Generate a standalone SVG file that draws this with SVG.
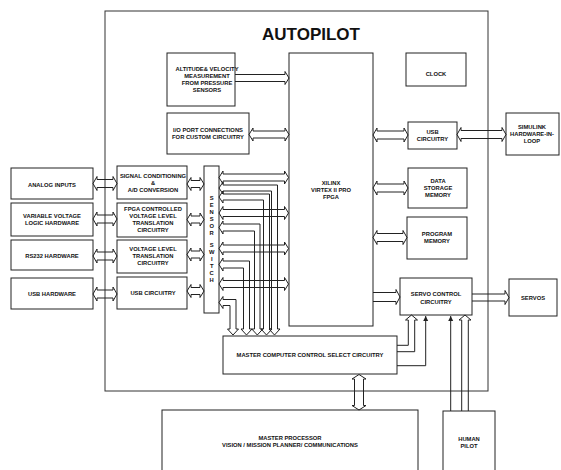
<svg xmlns="http://www.w3.org/2000/svg" width="561" height="470" viewBox="0 0 561 470">
<style>
.box{fill:#fff;stroke:#222;stroke-width:1}
.frame{fill:none;stroke:#333;stroke-width:1}
.arr{fill:none;stroke:#222;stroke-width:1;stroke-linejoin:miter}
.ln{fill:none;stroke:#222;stroke-width:1}
text{font-family:"Liberation Sans",Arial,sans-serif;font-weight:bold;font-size:5.8px;fill:#111;text-anchor:middle}
.title{font-size:17px}
</style>
<defs>
<marker id="ah" markerWidth="6" markerHeight="6" refX="5" refY="3" orient="auto" markerUnits="userSpaceOnUse">
<path d="M0,0.5 L5,3 L0,5.5 Z" fill="#222"/>
</marker>
</defs>
<rect width="561" height="470" fill="#fff"/>
<g id="autopilot"><rect class="frame" x="105" y="11" width="383" height="380"/><text class="title" x="311" y="40">AUTOPILOT</text></g>
<g id="altitude"><rect class="box" x="167" y="53" width="68" height="53"/><text x="207" y="70.5">ALTITUDE&amp; VELOCITY</text><text x="207" y="77.5">MEASUREMENT</text><text x="207" y="84.5">FROM PRESSURE</text><text x="207" y="91.5">SENSORS</text></g>
<g id="io"><rect class="box" x="167" y="113" width="82" height="41"/><text x="208" y="131.5">I/O PORT CONNECTIONS</text><text x="208" y="138.5">FOR CUSTOM CIRCUITRY</text></g>
<g id="fpga"><rect class="box" x="289" y="53" width="84" height="273"/><text x="331" y="185">XILINX</text><text x="331" y="192">VIRTEX II PRO</text><text x="331" y="199">FPGA</text></g>
<g id="clock"><rect class="box" x="406" y="53" width="60" height="33"/><text x="436" y="75.5">CLOCK</text></g>
<g id="usbc"><rect class="box" x="408" y="122" width="49" height="27"/><text x="432.5" y="134">USB</text><text x="432.5" y="141">CIRCUITRY</text></g>
<g id="simulink"><rect class="box" x="506" y="113" width="53" height="42"/><text x="532" y="129">SIMULINK</text><text x="532" y="136">HARDWARE-IN-</text><text x="532" y="143">LOOP</text></g>
<g id="data"><rect class="box" x="408" y="168" width="59" height="40"/><text x="438" y="183">DATA</text><text x="438" y="190">STORAGE</text><text x="438" y="197">MEMORY</text></g>
<g id="program"><rect class="box" x="407" y="217" width="60" height="42"/><text x="437" y="236">PROGRAM</text><text x="437" y="243">MEMORY</text></g>
<g id="servoctl"><rect class="box" x="400" y="278" width="72" height="37"/><text x="436" y="296">SERVO CONTROL</text><text x="436" y="303.5">CIRCUITRY</text></g>
<g id="servos"><rect class="box" x="509" y="279" width="48" height="37"/><text x="533" y="300">SERVOS</text></g>
<g id="mccs"><rect class="box" x="223" y="336" width="174" height="38"/><text x="310" y="356.5">MASTER COMPUTER CONTROL SELECT CIRCUITRY</text></g>
<g id="masterproc"><rect class="box" x="162" y="410" width="256" height="70"/><text x="290" y="440">MASTER PROCESSOR</text><text x="290" y="447">VISION / MISSION PLANNER/ COMMUNICATIONS</text></g>
<g id="human"><rect class="box" x="443" y="411" width="52" height="70"/><text x="469" y="440.5">HUMAN</text><text x="469" y="448">PILOT</text></g>
<g id="analog"><rect class="box" x="11" y="168" width="82" height="31"/><text x="52" y="186.5">ANALOG INPUTS</text></g>
<g id="varvolt"><rect class="box" x="11" y="203" width="82" height="33"/><text x="52" y="218">VARIABLE VOLTAGE</text><text x="52" y="225">LOGIC HARDWARE</text></g>
<g id="rs232"><rect class="box" x="11" y="240" width="82" height="30"/><text x="52" y="258">RS232 HARDWARE</text></g>
<g id="usbhw"><rect class="box" x="11" y="278" width="82" height="31"/><text x="52" y="295.5">USB HARDWARE</text></g>
<g id="sigcond"><rect class="box" x="117" y="166" width="70" height="33"/><text x="153" y="178">SIGNAL CONDITIONING</text><text x="153" y="185">&amp;</text><text x="153" y="192">A/D CONVERSION</text></g>
<g id="fpgavolt"><rect class="box" x="117" y="203" width="70" height="34"/><text x="153" y="210.5">FPGA CONTROLLED</text><text x="153" y="217.5">VOLTAGE LEVEL</text><text x="153" y="224.5">TRANSLATION</text><text x="153" y="231.5">CIRCUITRY</text></g>
<g id="voltlevel"><rect class="box" x="117" y="240" width="70" height="33"/><text x="153" y="250.5">VOLTAGE LEVEL</text><text x="153" y="257.5">TRANSLATION</text><text x="153" y="264.5">CIRCUITRY</text></g>
<g id="usbcirc"><rect class="box" x="117" y="277" width="70" height="32"/><text x="153" y="295">USB CIRCUITRY</text></g>
<g id="sensorswitch"><rect class="box" x="204" y="166" width="15" height="147"/>
<text x="211.7" y="199.5">S</text><text x="211.7" y="206.5">E</text><text x="211.7" y="213.5">N</text><text x="211.7" y="220.5">S</text><text x="211.7" y="227.5">O</text><text x="211.7" y="234.5">R</text>
<text x="211.7" y="247">S</text><text x="211.7" y="254">W</text><text x="211.7" y="261">I</text><text x="211.7" y="268">T</text><text x="211.7" y="275">C</text><text x="211.7" y="282">H</text></g>
<g id="connectors">
<path class="arr" d="M93,183.5 L97,176.5 L97,179.5 L113,179.5 L113,176.5 L117,183.5 L113,190.5 L113,187.5 L97,187.5 L97,190.5 Z"/>
<path class="arr" d="M93,219 L97,212 L97,215 L113,215 L113,212 L117,219 L113,226 L113,223 L97,223 L97,226 Z"/>
<path class="arr" d="M93,256 L97,249 L97,252 L113,252 L113,249 L117,256 L113,263 L113,260 L97,260 L97,263 Z"/>
<path class="arr" d="M93,294 L97,287 L97,290 L113,290 L113,287 L117,294 L113,301 L113,298 L97,298 L97,301 Z"/>
<path class="arr" d="M187,184 L191,177.5 L191,180.5 L200,180.5 L200,177.5 L204,184 L200,190.5 L200,187.5 L191,187.5 L191,190.5 Z"/>
<path class="arr" d="M187,219.5 L191,213 L191,216 L200,216 L200,213 L204,219.5 L200,226 L200,223 L191,223 L191,226 Z"/>
<path class="arr" d="M187,254.5 L191,248 L191,251 L200,251 L200,248 L204,254.5 L200,261 L200,258 L191,258 L191,261 Z"/>
<path class="arr" d="M187,291 L191,284.5 L191,287.5 L200,287.5 L200,284.5 L204,291 L200,297.5 L200,294.5 L191,294.5 L191,297.5 Z"/>
<path class="arr" d="M219,188 L223,182 L223,185 L277.5,185 L277.5,329 L280,329 L274.5,335 L269,329 L271.5,329 L271.5,191 L223,191 L223,194 Z"/>
<path class="arr" d="M219,197 L223,191 L223,194 L269.5,194 L269.5,329 L272,329 L266.5,335 L261,329 L263.5,329 L263.5,200 L223,200 L223,203 Z"/>
<path class="arr" d="M219,227.5 L223,221 L223,224 L260,224 L260,329 L262.8,329 L257.3,335 L251.8,329 L254.5,329 L254.5,231 L223,231 L223,234 Z"/>
<path class="arr" d="M219,264.5 L223,258 L223,261 L249.5,261 L249.5,329 L252,329 L246.5,335 L241,329 L243.5,329 L243.5,268 L223,268 L223,271 Z"/>
<path class="arr" d="M219,302.5 L223,296.5 L223,299.5 L236,299.5 L236,329 L238.5,329 L233,335 L227.5,329 L230,329 L230,305.5 L223,305.5 L223,308.5 Z"/>
<path class="arr" d="M219,177.5 L223,171 L223,174 L284.5,174 L284.5,171 L288.5,177.5 L284.5,184 L284.5,181 L223,181 L223,184 Z"/>
<path class="arr" d="M219,213 L223,206.5 L223,209.5 L284.5,209.5 L284.5,206.5 L288.5,213 L284.5,219.5 L284.5,216.5 L223,216.5 L223,219.5 Z"/>
<path class="arr" d="M219,248.5 L223,242 L223,245 L284.5,245 L284.5,242 L288.5,248.5 L284.5,255 L284.5,252 L223,252 L223,255 Z"/>
<path class="arr" d="M219,284 L223,277.5 L223,280.5 L284.5,280.5 L284.5,277.5 L288.5,284 L284.5,290.5 L284.5,287.5 L223,287.5 L223,290.5 Z"/>
<path class="arr" d="M235,74.5 L285,74.5 L285,71.5 L289,78 L285,84.5 L285,81.5 L235,81.5"/>
<path class="arr" d="M249,134.5 L253,128 L253,131 L285,131 L285,128 L289,134.5 L285,141 L285,138 L253,138 L253,141 Z"/>
<path class="arr" d="M373,135 L377,128 L377,131 L404,131 L404,128 L408,135 L404,142 L404,139 L377,139 L377,142 Z"/>
<path class="arr" d="M457,134.5 L461,127.5 L461,130.5 L502,130.5 L502,127.5 L506,134.5 L502,141.5 L502,138.5 L461,138.5 L461,141.5 Z"/>
<path class="arr" d="M373,188 L377,181 L377,184 L404,184 L404,181 L408,188 L404,195 L404,192 L377,192 L377,195 Z"/>
<path class="arr" d="M373,237.5 L377,230.5 L377,233.5 L403,233.5 L403,230.5 L407,237.5 L403,244.5 L403,241.5 L377,241.5 L377,244.5 Z"/>
<path class="arr" d="M373,292.5 L396,292.5 L396,289.5 L400,297 L396,304.5 L396,301.5 L373,301.5"/>
<path class="arr" d="M472,294 L505,294 L505,290.5 L509,297.5 L505,304.5 L505,301 L472,301"/>
<path class="arr" d="M359,374.5 L366,379 L363.5,379 L363.5,405.5 L366,405.5 L359,410 L352,405.5 L354.5,405.5 L354.5,379 L352,379 Z"/>
<path class="arr" d="M397,345.3 L408.3,345.3 L408.3,320 L405.5,320 L411.5,315 L417.5,320 L414.7,320 L414.7,351.7 L397,351.7"/>
<polyline class="ln" points="397,365.7 425.7,365.7 425.7,316" marker-end="url(#ah)"/>
<line class="ln" x1="450.7" y1="411" x2="450.7" y2="316" marker-end="url(#ah)"/>
<path class="arr" d="M461.7,411 L461.7,320 L459,320 L465,315 L471,320 L468.3,320 L468.3,411"/>
</g>
</svg>
